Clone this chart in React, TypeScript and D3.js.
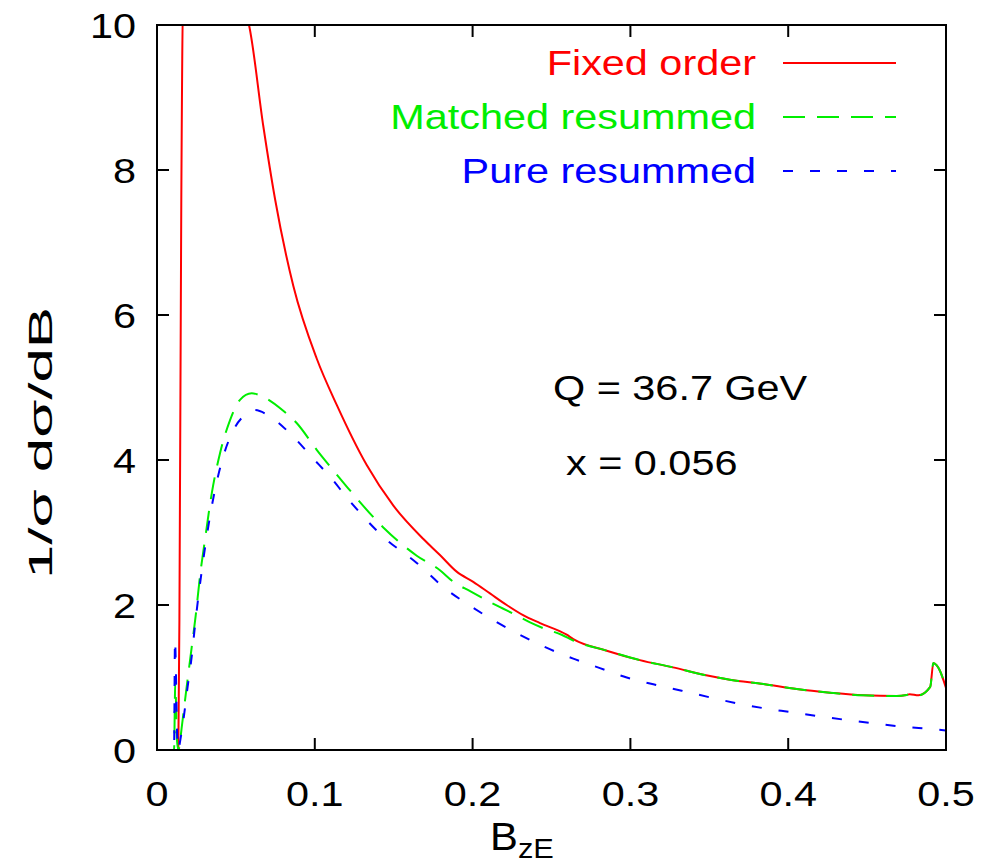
import React from "react";
import * as d3 from "d3";

const xTicks = [0, 0.1, 0.2, 0.3, 0.4, 0.5];
const yTicks = [0, 2, 4, 6, 8, 10];
const xTickLabels = ["0", "0.1", "0.2", "0.3", "0.4", "0.5"];
const yTickLabels = ["0", "2", "4", "6", "8", "10"];

const seriesNames = ["Fixed order", "Matched resummed", "Pure resummed"];
const seriesColors = ["#ff0000", "#00ee00", "#0000ff"];
const seriesDashes = ["none", "22,12", "10,17"];

const fixedOrder: [number, number][] = [
  [0.0134, -0.3], [0.0142, 1.8], [0.0154, 7.6], [0.0166, 10.4],
  [0.0572, 10.1], [0.0583, 10.0], [0.0674, 8.6], [0.0748, 7.6], [0.0864, 6.4],
  [0.1012, 5.4], [0.1139, 4.76], [0.1329, 3.93], [0.1498, 3.37], [0.1688, 2.91],
  [0.1793, 2.69], [0.1899, 2.46], [0.2004, 2.32], [0.211, 2.16], [0.2216, 2.0],
  [0.232, 1.86], [0.2427, 1.75], [0.2596, 1.59], [0.2638, 1.53], [0.285, 1.37],
  [0.306, 1.24], [0.327, 1.14], [0.348, 1.03], [0.363, 0.97], [0.3843, 0.91],
  [0.4054, 0.84], [0.4265, 0.79], [0.4477, 0.754], [0.4688, 0.745], [0.475, 0.76],
  [0.477, 0.77], [0.4825, 0.754], [0.49, 0.87], [0.492, 1.2], [0.494, 1.17],
  [0.496, 1.1], [0.5, 0.855],
];

const matchedResummed: [number, number][] = [
  [0, 0], [0.0108, 0], [0.0116, 0.95], [0.0126, 0.15], [0.0136, 0.0],
  [0.0145, 0.1], [0.0156, 0.3], [0.0188, 0.87], [0.022, 1.42], [0.0245, 1.85],
  [0.0272, 2.39], [0.0304, 2.9], [0.0347, 3.54], [0.0399, 4.09], [0.0463, 4.55],
  [0.0526, 4.83], [0.06, 4.92], [0.0674, 4.87], [0.08, 4.68], [0.0885, 4.51],
  [0.1012, 4.14], [0.1139, 3.8], [0.1223, 3.58], [0.1434, 3.07], [0.1646, 2.68],
  [0.1793, 2.48], [0.1878, 2.32], [0.1984, 2.19], [0.2068, 2.09], [0.2174, 1.97],
  [0.2258, 1.88], [0.2364, 1.76], [0.2448, 1.68], [0.2564, 1.59], [0.2638, 1.51],
  [0.285, 1.37], [0.306, 1.24], [0.327, 1.14], [0.348, 1.03], [0.363, 0.97],
  [0.3843, 0.91], [0.4054, 0.84], [0.4265, 0.79], [0.4477, 0.754], [0.4688, 0.745],
  [0.475, 0.76], [0.477, 0.77], [0.4825, 0.754], [0.49, 0.87], [0.492, 1.2],
  [0.494, 1.17], [0.496, 1.1], [0.5, 0.855],
];

const pureResummed: [number, number][] = [
  [0, 0], [0.0108, 0], [0.0114, 1.52], [0.0128, 0.2], [0.0137, 0.0],
  [0.0141, 0.05], [0.0167, 0.41], [0.0194, 0.87], [0.022, 1.29], [0.024, 1.7],
  [0.0293, 2.62], [0.0347, 3.36], [0.042, 4.05], [0.0484, 4.41], [0.0568, 4.64],
  [0.062, 4.69], [0.0716, 4.6], [0.0864, 4.32], [0.099, 4.02], [0.1096, 3.77],
  [0.1223, 3.43], [0.1434, 2.94], [0.1646, 2.58], [0.1836, 2.21], [0.1984, 1.99],
  [0.2131, 1.79], [0.229, 1.6], [0.2448, 1.43], [0.2638, 1.26], [0.2807, 1.13],
  [0.2977, 1.0], [0.3145, 0.906], [0.3325, 0.818], [0.3504, 0.726], [0.3674, 0.644],
  [0.3863, 0.57], [0.401, 0.524], [0.418, 0.469], [0.437, 0.414], [0.454, 0.368],
  [0.473, 0.32], [0.49, 0.29], [0.5, 0.27],
];

const allSeries = [fixedOrder, matchedResummed, pureResummed];

const W = 994;
const H = 868;
const left = 157;
const right = 946;
const top = 25;
const bottom = 750;
const FONT = "'Liberation Sans', Arial, Helvetica, sans-serif";
const SX = 1.15;

function T({ x, y, anchor = "start", size = 36, fill = "#000", children }: any) {
  return (
    <text
      transform={`translate(${x},${y}) scale(${SX},1)`}
      textAnchor={anchor}
      fontSize={size}
      fontFamily={FONT}
      fill={fill}
    >
      {children}
    </text>
  );
}

export default function App() {
  const x = d3.scaleLinear().domain([0, 0.5]).range([left, right]);
  const y = d3.scaleLinear().domain([0, 10]).range([bottom, top]);
  const line = d3
    .line<[number, number]>()
    .x((d) => x(d[0]))
    .y((d) => y(d[1]))
    .curve(d3.curveMonotoneX);

  const tickLen = 12;

  return (
    <svg
      width={W}
      height={H}
      style={{ position: "absolute", left: 0, top: 0, background: "#fff" }}
    >
      <defs>
        <clipPath id="plotclip">
          <rect x={left} y={top} width={right - left} height={bottom - top} />
        </clipPath>
      </defs>
      <rect x={0} y={0} width={W} height={H} fill="#fff" />

      {/* curves */}
      <g clipPath="url(#plotclip)">
        {allSeries.map((s, i) => (
          <path
            key={i}
            d={line(s) || ""}
            fill="none"
            stroke={seriesColors[i]}
            strokeWidth={2}
            strokeDasharray={seriesDashes[i]}
          />
        ))}
      </g>

      {/* ticks */}
      {xTicks.map((t, i) => (
        <g key={"xt" + i}>
          <line x1={x(t)} x2={x(t)} y1={bottom} y2={bottom - tickLen} stroke="#000" strokeWidth={2} />
          <line x1={x(t)} x2={x(t)} y1={top} y2={top + tickLen} stroke="#000" strokeWidth={2} />
          <T x={x(t)} y={806} anchor="middle">{xTickLabels[i]}</T>
        </g>
      ))}
      {yTicks.map((t, i) => (
        <g key={"yt" + i}>
          <line x1={left} x2={left + tickLen} y1={y(t)} y2={y(t)} stroke="#000" strokeWidth={2} />
          <line x1={right} x2={right - tickLen} y1={y(t)} y2={y(t)} stroke="#000" strokeWidth={2} />
          <T x={136} y={y(t) + 13} anchor="end">{yTickLabels[i]}</T>
        </g>
      ))}

      {/* frame */}
      <rect x={left} y={top} width={right - left} height={bottom - top} fill="none" stroke="#000" strokeWidth={2} />

      {/* legend */}
      {seriesNames.map((n, i) => (
        <g key={"lg" + i}>
          <T x={756} y={75 + i * 54} anchor="end" fill={seriesColors[i]}>{n}</T>
          <line
            x1={783}
            x2={896}
            y1={63 + i * 54}
            y2={63 + i * 54}
            stroke={seriesColors[i]}
            strokeWidth={2}
            strokeDasharray={seriesDashes[i]}
          />
        </g>
      ))}

      {/* annotations */}
      <T x={553} y={400}>Q = 36.7 GeV</T>
      <T x={566} y={475}>x = 0.056</T>

      {/* axis labels */}
      <text
        transform={`translate(${490},${850}) scale(1.1,1)`}
        fontSize={38}
        fontFamily={FONT}
        fill="#000"
      >
        B<tspan fontSize={28} dy={8}>zE</tspan>
      </text>
      <text
        transform={`translate(52,443) rotate(-90)`}
        textAnchor="middle"
        fontSize={34}
        fontFamily={FONT}
        fill="#000"
        textLength={272}
        lengthAdjust="spacingAndGlyphs"
      >
        1/σ dσ/dB
      </text>
    </svg>
  );
}
